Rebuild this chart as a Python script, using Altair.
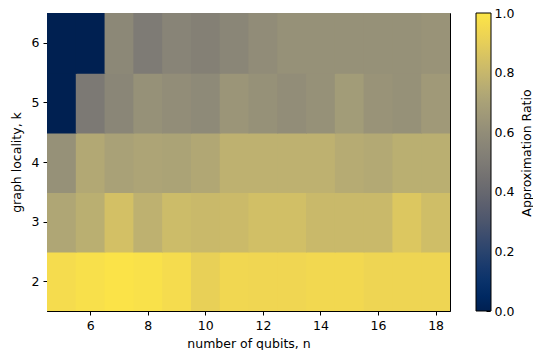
import altair as alt
import pandas as pd

n_values = list(range(5, 19))
k_values = [2, 3, 4, 5, 6]

ratio_k2 = [0.96, 0.975, 0.99, 0.98, 0.96, 0.91, 0.94, 0.935, 0.935, 0.945, 0.945, 0.93, 0.93, 0.93]
ratio_k3 = [0.72, 0.76, 0.84, 0.77, 0.82, 0.81, 0.815, 0.835, 0.835, 0.81, 0.81, 0.81, 0.87, 0.83]
ratio_k4 = [0.62, 0.73, 0.70, 0.71, 0.705, 0.725, 0.77, 0.77, 0.77, 0.77, 0.745, 0.735, 0.76, 0.76]
ratio_k5 = [0.0, 0.49, 0.56, 0.62, 0.60, 0.58, 0.64, 0.62, 0.60, 0.62, 0.67, 0.63, 0.62, 0.66]
ratio_k6 = [0.0, 0.0, 0.57, 0.50, 0.55, 0.53, 0.56, 0.59, 0.62, 0.62, 0.62, 0.62, 0.62, 0.63]

colorbar_ticks = [0.0, 0.2, 0.4, 0.6, 0.8, 1.0]
colorbar_title = ["Approximation Ratio"]

rows = []
for k, vals in zip(k_values, [ratio_k2, ratio_k3, ratio_k4, ratio_k5, ratio_k6]):
    for n, v in zip(n_values, vals):
        rows.append({"n": n, "k": k, "ratio": v})
df = pd.DataFrame(rows)

font = "DejaVu Sans"
fs = 12.5

heat = (
    alt.Chart(df)
    .transform_calculate(
        # slight overlap of neighbouring cells hides anti-aliasing seams
        n0="datum.n - 0.5", n1="datum.n + 0.53", k0="datum.k - 0.52", k1="datum.k + 0.5",
    )
    .mark_rect(clip=True)
    .encode(
        x=alt.X(
            "n0:Q",
            scale=alt.Scale(domain=[4.5, 18.5], nice=False, zero=False),
            axis=alt.Axis(
                values=[6, 8, 10, 12, 14, 16, 18],
                title="number of qubits, n",
                format="d",
                grid=False,
                titlePadding=6,
            ),
        ),
        x2="n1:Q",
        y=alt.Y(
            "k0:Q",
            scale=alt.Scale(domain=[1.5, 6.5], nice=False, zero=False),
            axis=alt.Axis(
                values=[2, 3, 4, 5, 6],
                title="graph locality, k",
                format="d",
                grid=False,
                titlePadding=8,
            ),
        ),
        y2="k1:Q",
        color=alt.Color(
            "ratio:Q",
            scale=alt.Scale(scheme="cividis", domain=[0, 1]),
            legend=alt.Legend(
                type="gradient",
                title=None,
                orient="none",
                legendX=429,
                legendY=0,
                direction="vertical",
                gradientLength=298,
                gradientThickness=15,
                gradientStrokeColor="black",
                gradientStrokeWidth=1,
                values=colorbar_ticks,
                labelExpr="''",
                labelOpacity=0,
                labelFontSize=1,
            ),
        ),
    )
)

cbar_axis = (
    alt.Chart(pd.DataFrame({"v": colorbar_ticks}))
    .mark_point(opacity=0)
    .encode(
        x=alt.value(0),
        y=alt.Y(
            "v:Q",
            scale=alt.Scale(domain=[0, 1], nice=False, zero=False),
            axis=alt.Axis(
                orient="right",
                offset=36,
                values=colorbar_ticks,
                format=".1f",
                domain=False,
                grid=False,
                title=None,
            ),
        ),
    )
)

title_text = (
    alt.Chart(pd.DataFrame({"t": colorbar_title}))
    .mark_text(angle=270, font=font, fontSize=fs, color="black", align="center", baseline="middle")
    .encode(text="t:N", x=alt.value(480), y=alt.value(140))
)

chart = (
    alt.layer(heat, cbar_axis, title_text)
    .resolve_scale(y="independent")
    .properties(
        width=403,
        height=298,
        autosize=alt.AutoSizeParams(type="none"),
        padding={"left": 39, "top": 5, "right": 83, "bottom": 39},
    )
    .configure_view(stroke="black", strokeWidth=1)
    .configure_axis(
        labelFont=font,
        labelFontSize=fs,
        labelColor="black",
        titleFont=font,
        titleFontSize=fs,
        titleFontWeight="normal",
        titleColor="black",
        tickColor="black",
        domainColor="black",
        tickSize=4,
        labelPadding=4,
    )
)

chart.save("out.html", embed_options={"renderer": "svg", "actions": False})
